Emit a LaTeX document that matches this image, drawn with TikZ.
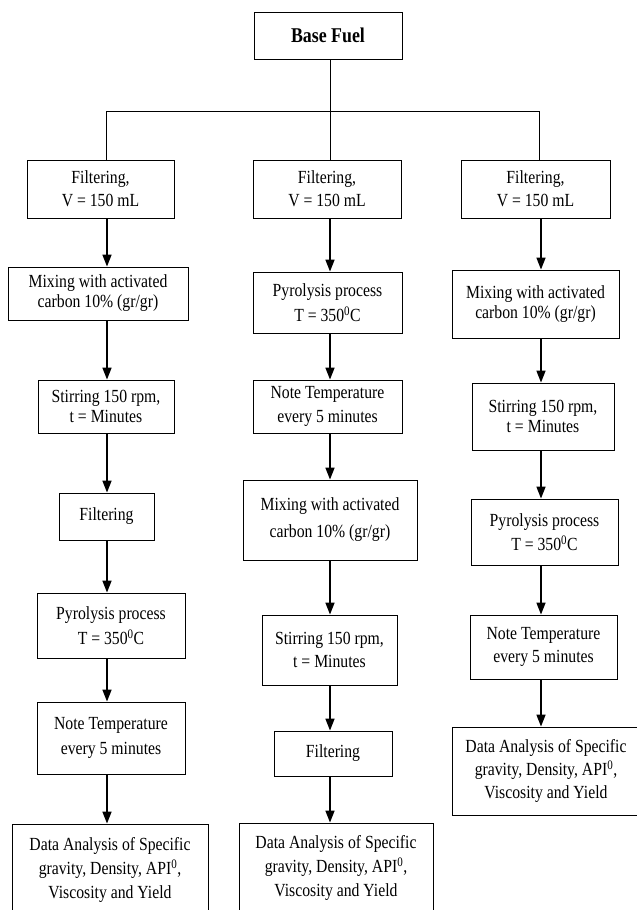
\documentclass[tikz,border=0pt]{standalone}
\usepackage{fontspec}
\setmainfont{Liberation Serif}[FakeStretch=0.85]
\usetikzlibrary{arrows.meta}
\begin{document}
\begin{tikzpicture}[x=1pt,y=-1pt,
  box/.style={draw=black, line width=0.9pt, inner sep=0pt, align=center,
    font=\fontsize{18.5}{23}\selectfont},
  ls/.style={font=\fontsize{18.5}{#1}\selectfont},
  arr/.style={line width=1.6pt, -{Triangle[width=9pt,length=12pt]}},
  tree/.style={line width=0.8pt}]
\useasboundingbox (0,0) rectangle (637,910);
% top
\node[box, minimum width=148pt, minimum height=47pt, font=\fontsize{21}{24}\selectfont\bfseries] (base) at (328,35.5) {Base Fuel};
% column 1
\node[box, minimum width=147pt, minimum height=58pt] (f1) at (100.5,189) {Filtering,\\V = 150 mL};
\node[box, ls=20, minimum width=180pt, minimum height=53pt] (m1) at (98,293.5) {Mixing with activated\\carbon 10\% (gr/gr)};
\node[box, ls=20, minimum width=136pt, minimum height=53pt] (s1) at (106,406.5) {Stirring 150 rpm,\\t = Minutes};
\node[box, minimum width=95pt, minimum height=47pt] (g1) at (106.5,516.5) {Filtering};
\node[box, ls=25, minimum width=148pt, minimum height=65pt] (p1) at (111,625.5) {Pyrolysis process\\T = 350\textsuperscript{0}C};
\node[box, ls=25, minimum width=148pt, minimum height=72pt] (n1) at (111,738) {Note Temperature\\every 5 minutes};
\node[box, ls=24, minimum width=196pt, minimum height=92pt] (d1) at (110,870) {Data Analysis of Specific\\gravity, Density, API\textsuperscript{0},\\Viscosity and Yield};
% column 2
\node[box, minimum width=148pt, minimum height=58pt] (f2) at (327,189) {Filtering,\\V = 150 mL};
\node[box, ls=25, minimum width=149pt, minimum height=61pt] (p2) at (327.5,302.5) {Pyrolysis process\\T = 350\textsuperscript{0}C};
\node[box, ls=24, minimum width=149pt, minimum height=53pt] (n2) at (327.5,406.5) {Note Temperature\\every 5 minutes};
\node[box, ls=27, minimum width=174pt, minimum height=80pt] (m2) at (330,520) {Mixing with activated\\carbon 10\% (gr/gr)};
\node[box, ls=23, minimum width=135pt, minimum height=70pt] (s2) at (329.5,650) {Stirring 150 rpm,\\t = Minutes};
\node[box, minimum width=118pt, minimum height=45pt] (g2) at (333,753.5) {Filtering};
\node[box, ls=24, minimum width=194pt, minimum height=90pt] (d2) at (336,868) {Data Analysis of Specific\\gravity, Density, API\textsuperscript{0},\\Viscosity and Yield};
% column 3
\node[box, minimum width=149pt, minimum height=58pt] (f3) at (535.5,189) {Filtering,\\V = 150 mL};
\node[box, ls=20, minimum width=167pt, minimum height=68pt] (m3) at (535.5,304) {Mixing with activated\\carbon 10\% (gr/gr)};
\node[box, ls=20, minimum width=142pt, minimum height=67pt] (s3) at (543,416.5) {Stirring 150 rpm,\\t = Minutes};
\node[box, ls=24, minimum width=147pt, minimum height=66pt] (p3) at (544.5,532) {Pyrolysis process\\T = 350\textsuperscript{0}C};
\node[box, ls=23, minimum width=147pt, minimum height=64pt] (n3) at (543.5,647) {Note Temperature\\every 5 minutes};
\node[box, ls=23, minimum width=188pt, minimum height=88pt] (d3) at (546,771) {Data Analysis of Specific\\gravity, Density, API\textsuperscript{0},\\Viscosity and Yield};
% tree
\coordinate (h1) at (106,111);
\coordinate (h2) at (330,111);
\coordinate (h3) at (539,111);
\draw[tree] (base.south -| h2) -- (h2);
\draw[tree] (h1) -- (h3);
\draw[tree] (h1) -- (f1.north -| h1);
\draw[tree] (h2) -- (f2.north -| h2);
\draw[tree] (h3) -- (f3.north -| h3);
% arrows
\coordinate (c1) at (107,0);
\coordinate (c2) at (330,0);
\coordinate (c3) at (541,0);
\foreach \a/\b in {f1/m1,m1/s1,s1/g1,g1/p1,p1/n1,n1/d1}
  \draw[arr] (\a.south -| c1) -- (\b.north -| c1);
\foreach \a/\b in {f2/p2,p2/n2,n2/m2,m2/s2,s2/g2,g2/d2}
  \draw[arr] (\a.south -| c2) -- (\b.north -| c2);
\foreach \a/\b in {f3/m3,m3/s3,s3/p3,p3/n3,n3/d3}
  \draw[arr] (\a.south -| c3) -- (\b.north -| c3);
\end{tikzpicture}
\end{document}
